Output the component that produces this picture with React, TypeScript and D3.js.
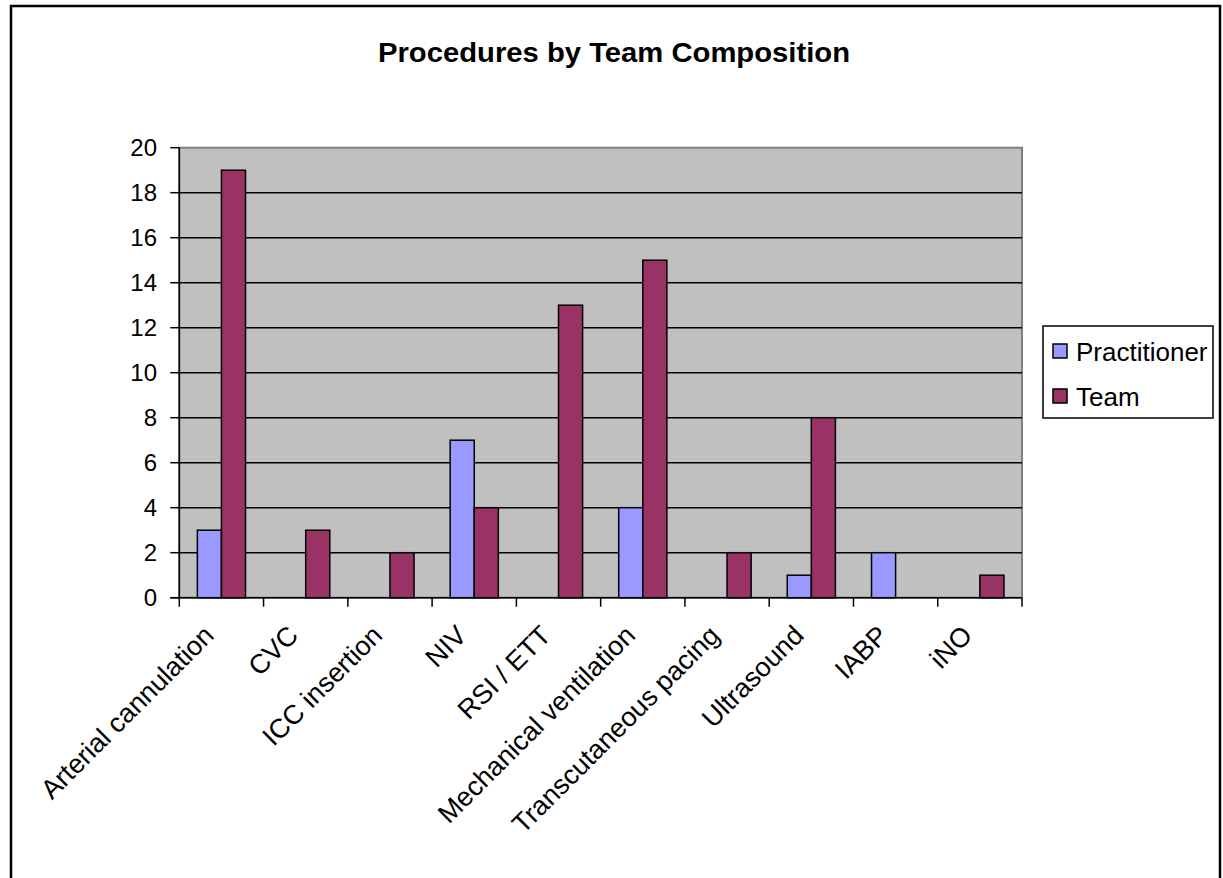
import React from "react";
import * as d3 from "d3";

const categories = [
  "Arterial cannulation",
  "CVC",
  "ICC insertion",
  "NIV",
  "RSI / ETT",
  "Mechanical ventilation",
  "Transcutaneous pacing",
  "Ultrasound",
  "IABP",
  "iNO",
];
const practitioner = [3, 0, 0, 7, 0, 4, 0, 1, 2, 0];
const team = [19, 3, 2, 4, 13, 15, 2, 8, 0, 1];
const seriesNames = ["Practitioner", "Team"];
const seriesColors = ["#9999FF", "#993366"];
const yTicks = [0, 2, 4, 6, 8, 10, 12, 14, 16, 18, 20];

const W = 1223;
const H = 878;
const plot = { left: 179.3, right: 1022, top: 147.7, bottom: 597.7 };
const FONT = "'Liberation Sans', Arial, sans-serif";

export default function App() {
  const x = d3.scaleBand().domain(categories).range([plot.left, plot.right]).padding(0);
  const y = d3.scaleLinear().domain([0, 20]).range([plot.bottom, plot.top]);
  const bw = x.bandwidth();
  const barW = bw / 3.5;
  const inner = d3.scaleBand().domain(seriesNames).range([0.75 * barW, 2.75 * barW]).padding(0);
  const data = [practitioner, team];

  const boundaries = d3.range(categories.length + 1).map((i) => plot.left + i * bw);

  return (
    <svg
      width={W}
      height={H}
      style={{ position: "absolute", left: 0, top: 0, background: "#fff" }}
      fontFamily={FONT}
    >
      <rect x={0} y={0} width={W} height={H} fill="#fff" />
      {/* outer chart border */}
      <rect x={11} y={6} width={1209} height={H + 20} fill="none" stroke="#000" strokeWidth={2.5} />

      {/* title */}
      <text
        x={614}
        y={62}
        textAnchor="middle"
        fontSize={27}
        fontWeight="bold"
        fill="#000"
        textLength={472}
        lengthAdjust="spacingAndGlyphs"
      >
        Procedures by Team Composition
      </text>

      {/* plot area */}
      <rect
        x={plot.left}
        y={plot.top}
        width={plot.right - plot.left}
        height={plot.bottom - plot.top}
        fill="#C0C0C0"
        stroke="#808080"
        strokeWidth={2}
      />
      {/* gridlines */}
      {yTicks
        .filter((t) => t > 0 && t < 20)
        .map((t) => (
          <line key={t} x1={plot.left} x2={plot.right} y1={y(t)} y2={y(t)} stroke="#000" strokeWidth={1.5} />
        ))}

      {/* bars */}
      {data.map((vals, si) =>
        vals.map((v, ci) =>
          v > 0 ? (
            <rect
              key={`${si}-${ci}`}
              x={(x(categories[ci]) as number) + (inner(seriesNames[si]) as number)}
              y={y(v)}
              width={inner.bandwidth()}
              height={y(0) - y(v)}
              fill={seriesColors[si]}
              stroke="#000"
              strokeWidth={1.5}
            />
          ) : null
        )
      )}

      {/* y axis */}
      <line x1={plot.left} x2={plot.left} y1={plot.top} y2={plot.bottom} stroke="#000" strokeWidth={1.5} />
      {yTicks.map((t) => (
        <g key={t}>
          <line x1={plot.left - 9} x2={plot.left} y1={y(t)} y2={y(t)} stroke="#000" strokeWidth={1.5} />
          <text x={157} y={y(t)} dy="0.36em" textAnchor="end" fontSize={24} fill="#000">
            {t}
          </text>
        </g>
      ))}

      {/* x axis */}
      <line x1={plot.left - 9} x2={plot.right} y1={plot.bottom} y2={plot.bottom} stroke="#000" strokeWidth={1.5} />
      {boundaries.map((bx, i) => (
        <line key={i} x1={bx} x2={bx} y1={plot.bottom} y2={plot.bottom + 9} stroke="#000" strokeWidth={1.5} />
      ))}
      {categories.map((c) => {
        const cx = (x(c) as number) + bw / 2;
        return (
          <text
            key={c}
            transform={`translate(${cx - 6},${637}) rotate(-45)`}
            textAnchor="end"
            fontSize={27}
            fill="#000"
          >
            {c}
          </text>
        );
      })}

      {/* legend */}
      <rect x={1043} y={326} width={170} height={92} fill="#fff" stroke="#000" strokeWidth={1.5} />
      {seriesNames.map((s, i) => (
        <g key={s}>
          <rect x={1053} y={344 + i * 45} width={14} height={14} fill={seriesColors[i]} stroke="#000" strokeWidth={1.5} />
          <text x={1076} y={361 + i * 45} fontSize={26} fill="#000">
            {s}
          </text>
        </g>
      ))}
    </svg>
  );
}
